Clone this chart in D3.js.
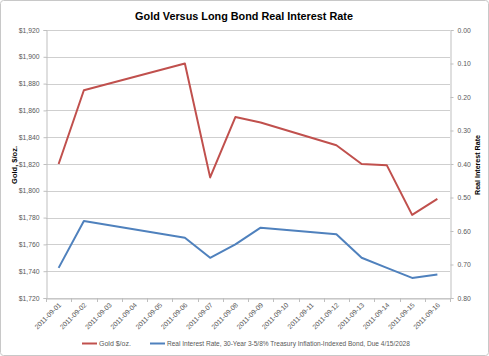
<!DOCTYPE html>
<html><head><meta charset="utf-8">
<script src="https://cdn.jsdelivr.net/npm/d3@7"></script>
<style>html,body{margin:0;padding:0;background:#fff;}svg{display:block;}</style>
</head><body>
<script>
const dates = ["2011-09-01","2011-09-02","2011-09-03","2011-09-04","2011-09-05","2011-09-06","2011-09-07","2011-09-08","2011-09-09","2011-09-10","2011-09-11","2011-09-12","2011-09-13","2011-09-14","2011-09-15","2011-09-16"];
const gold = [1820, 1875, null, null, null, 1895, 1810, 1855, 1851, null, null, 1834, 1820, 1819, 1782, 1794];
const rate = [0.71, 0.57, null, null, null, 0.62, 0.68, 0.64, 0.59, null, null, 0.61, 0.68, 0.71, 0.74, 0.73];
const goldTicks = [1720,1740,1760,1780,1800,1820,1840,1860,1880,1900,1920];
const rateTicks = [0,0.1,0.2,0.3,0.4,0.5,0.6,0.7,0.8];
const seriesNames = ["Gold $/oz.", "Real Interest Rate, 30-Year 3-5/8% Treasury Inflation-Indexed Bond, Due 4/15/2028"];
const title = "Gold Versus Long Bond Real Interest Rate";

const W = 489, H = 356;
const m = {l:46, r:450, t:30, b:298};
const FONT = "'Liberation Sans', Arial, sans-serif";
const svg = d3.select("body").append("svg").attr("width", W).attr("height", H);
svg.append("rect").attr("x",0.5).attr("y",0.5).attr("width",W-1).attr("height",H-1)
  .attr("rx",3).attr("fill","#fff").attr("stroke","#c8c8c8");

const x = d3.scaleBand().domain(dates).range([m.l, m.r]).padding(0);
const yG = d3.scaleLinear().domain([1720,1920]).range([m.b, m.t]);
const yR = d3.scaleLinear().domain([0,0.8]).range([m.t, m.b]);
const cx = d => x(d) + x.bandwidth()/2;

// gridlines
svg.append("g").selectAll("line").data(goldTicks).join("line")
  .attr("x1", m.l).attr("x2", m.r).attr("y1", d=>Math.round(yG(d))+0.5).attr("y2", d=>Math.round(yG(d))+0.5)
  .attr("stroke","#cfcfcf").attr("stroke-width",1);

// left axis
const gl = svg.append("g").attr("transform",`translate(${m.l+0.5},0)`)
  .call(d3.axisLeft(yG).tickValues(goldTicks).tickSize(3).tickPadding(4).tickFormat(d=>"$"+d3.format(",")(d)));
// right axis
const gr = svg.append("g").attr("transform",`translate(${m.r+0.5},0)`)
  .call(d3.axisRight(yR).tickValues(rateTicks).tickSize(3).tickPadding(4).tickFormat(d3.format(".2f")));
// bottom axis
const gb = svg.append("g").attr("transform",`translate(0,${Math.round(m.b)+0.5})`)
  .call(d3.axisBottom(x).tickSize(0).tickFormat(d=>d));
[gl,gr,gb].forEach(g=>{
  g.select(".domain").attr("stroke","#bfbfbf");
  g.selectAll(".tick line").attr("stroke","#bfbfbf");
  g.selectAll("text").attr("fill","#595959").style("font-family",FONT).style("font-size","6.8px");
});
// bottom category boundary ticks
svg.append("g").selectAll("line").data(dates.concat(["end"])).join("line")
  .attr("x1",(d,i)=>Math.round(m.l + i*x.bandwidth())+0.5).attr("x2",(d,i)=>Math.round(m.l + i*x.bandwidth())+0.5)
  .attr("y1",m.b).attr("y2",m.b+4).attr("stroke","#bfbfbf");
gb.selectAll(".tick text")
  .attr("text-anchor","end").attr("dy",null).attr("y",0)
  .attr("transform","translate(3,7) rotate(-45)");

// lines
const goldPts = dates.map((d,i)=>({d, v:gold[i]})).filter(p=>p.v!=null);
const ratePts = dates.map((d,i)=>({d, v:rate[i]})).filter(p=>p.v!=null);
svg.append("path").datum(goldPts).attr("fill","none").attr("stroke","#C0504D").attr("stroke-width",2)
  .attr("stroke-linejoin","round").attr("d", d3.line().x(p=>cx(p.d)).y(p=>yG(p.v)));
svg.append("path").datum(ratePts).attr("fill","none").attr("stroke","#4F81BD").attr("stroke-width",2)
  .attr("stroke-linejoin","round").attr("d", d3.line().x(p=>cx(p.d)).y(p=>yR(p.v)));

function fit(sel, target){
  const w = sel.node().getComputedTextLength();
  const fs = parseFloat(sel.style("font-size"));
  sel.style("font-size", (fs*target/w)+"px");
}
// title
const t = svg.append("text").attr("x",244).attr("y",20).attr("text-anchor","middle")
  .style("font-family",FONT).style("font-weight","bold").style("font-size","14px").attr("fill","#000").text(title);
fit(t, 218);
// axis titles
const lt = svg.append("text").attr("transform","translate(17,165) rotate(-90)").attr("text-anchor","middle")
  .style("font-family",FONT).style("font-weight","bold").style("font-size","7px").attr("fill","#000").text("Gold, $/oz.");
fit(lt, 38);
const rt = svg.append("text").attr("transform","translate(480,165) rotate(-90)").attr("text-anchor","middle")
  .style("font-family",FONT).style("font-weight","bold").style("font-size","7px").attr("fill","#000").text("Real Interest Rate");
fit(rt, 60);

// legend
const colors = ["#C0504D","#4F81BD"];
const lx = [82, 150];
const lg = svg.append("g");
seriesNames.forEach((n,i)=>{
  lg.append("line").attr("x1",lx[i]).attr("x2",lx[i]+15).attr("y1",343.5).attr("y2",343.5)
    .attr("stroke",colors[i]).attr("stroke-width",2);
  const tx = lg.append("text").attr("x",lx[i]+17).attr("y",346).style("font-family",FONT).style("font-size","7px")
    .attr("fill","#595959").text(n);
  if(i==1) fit(tx, 243);
});
</script>
</body></html>
